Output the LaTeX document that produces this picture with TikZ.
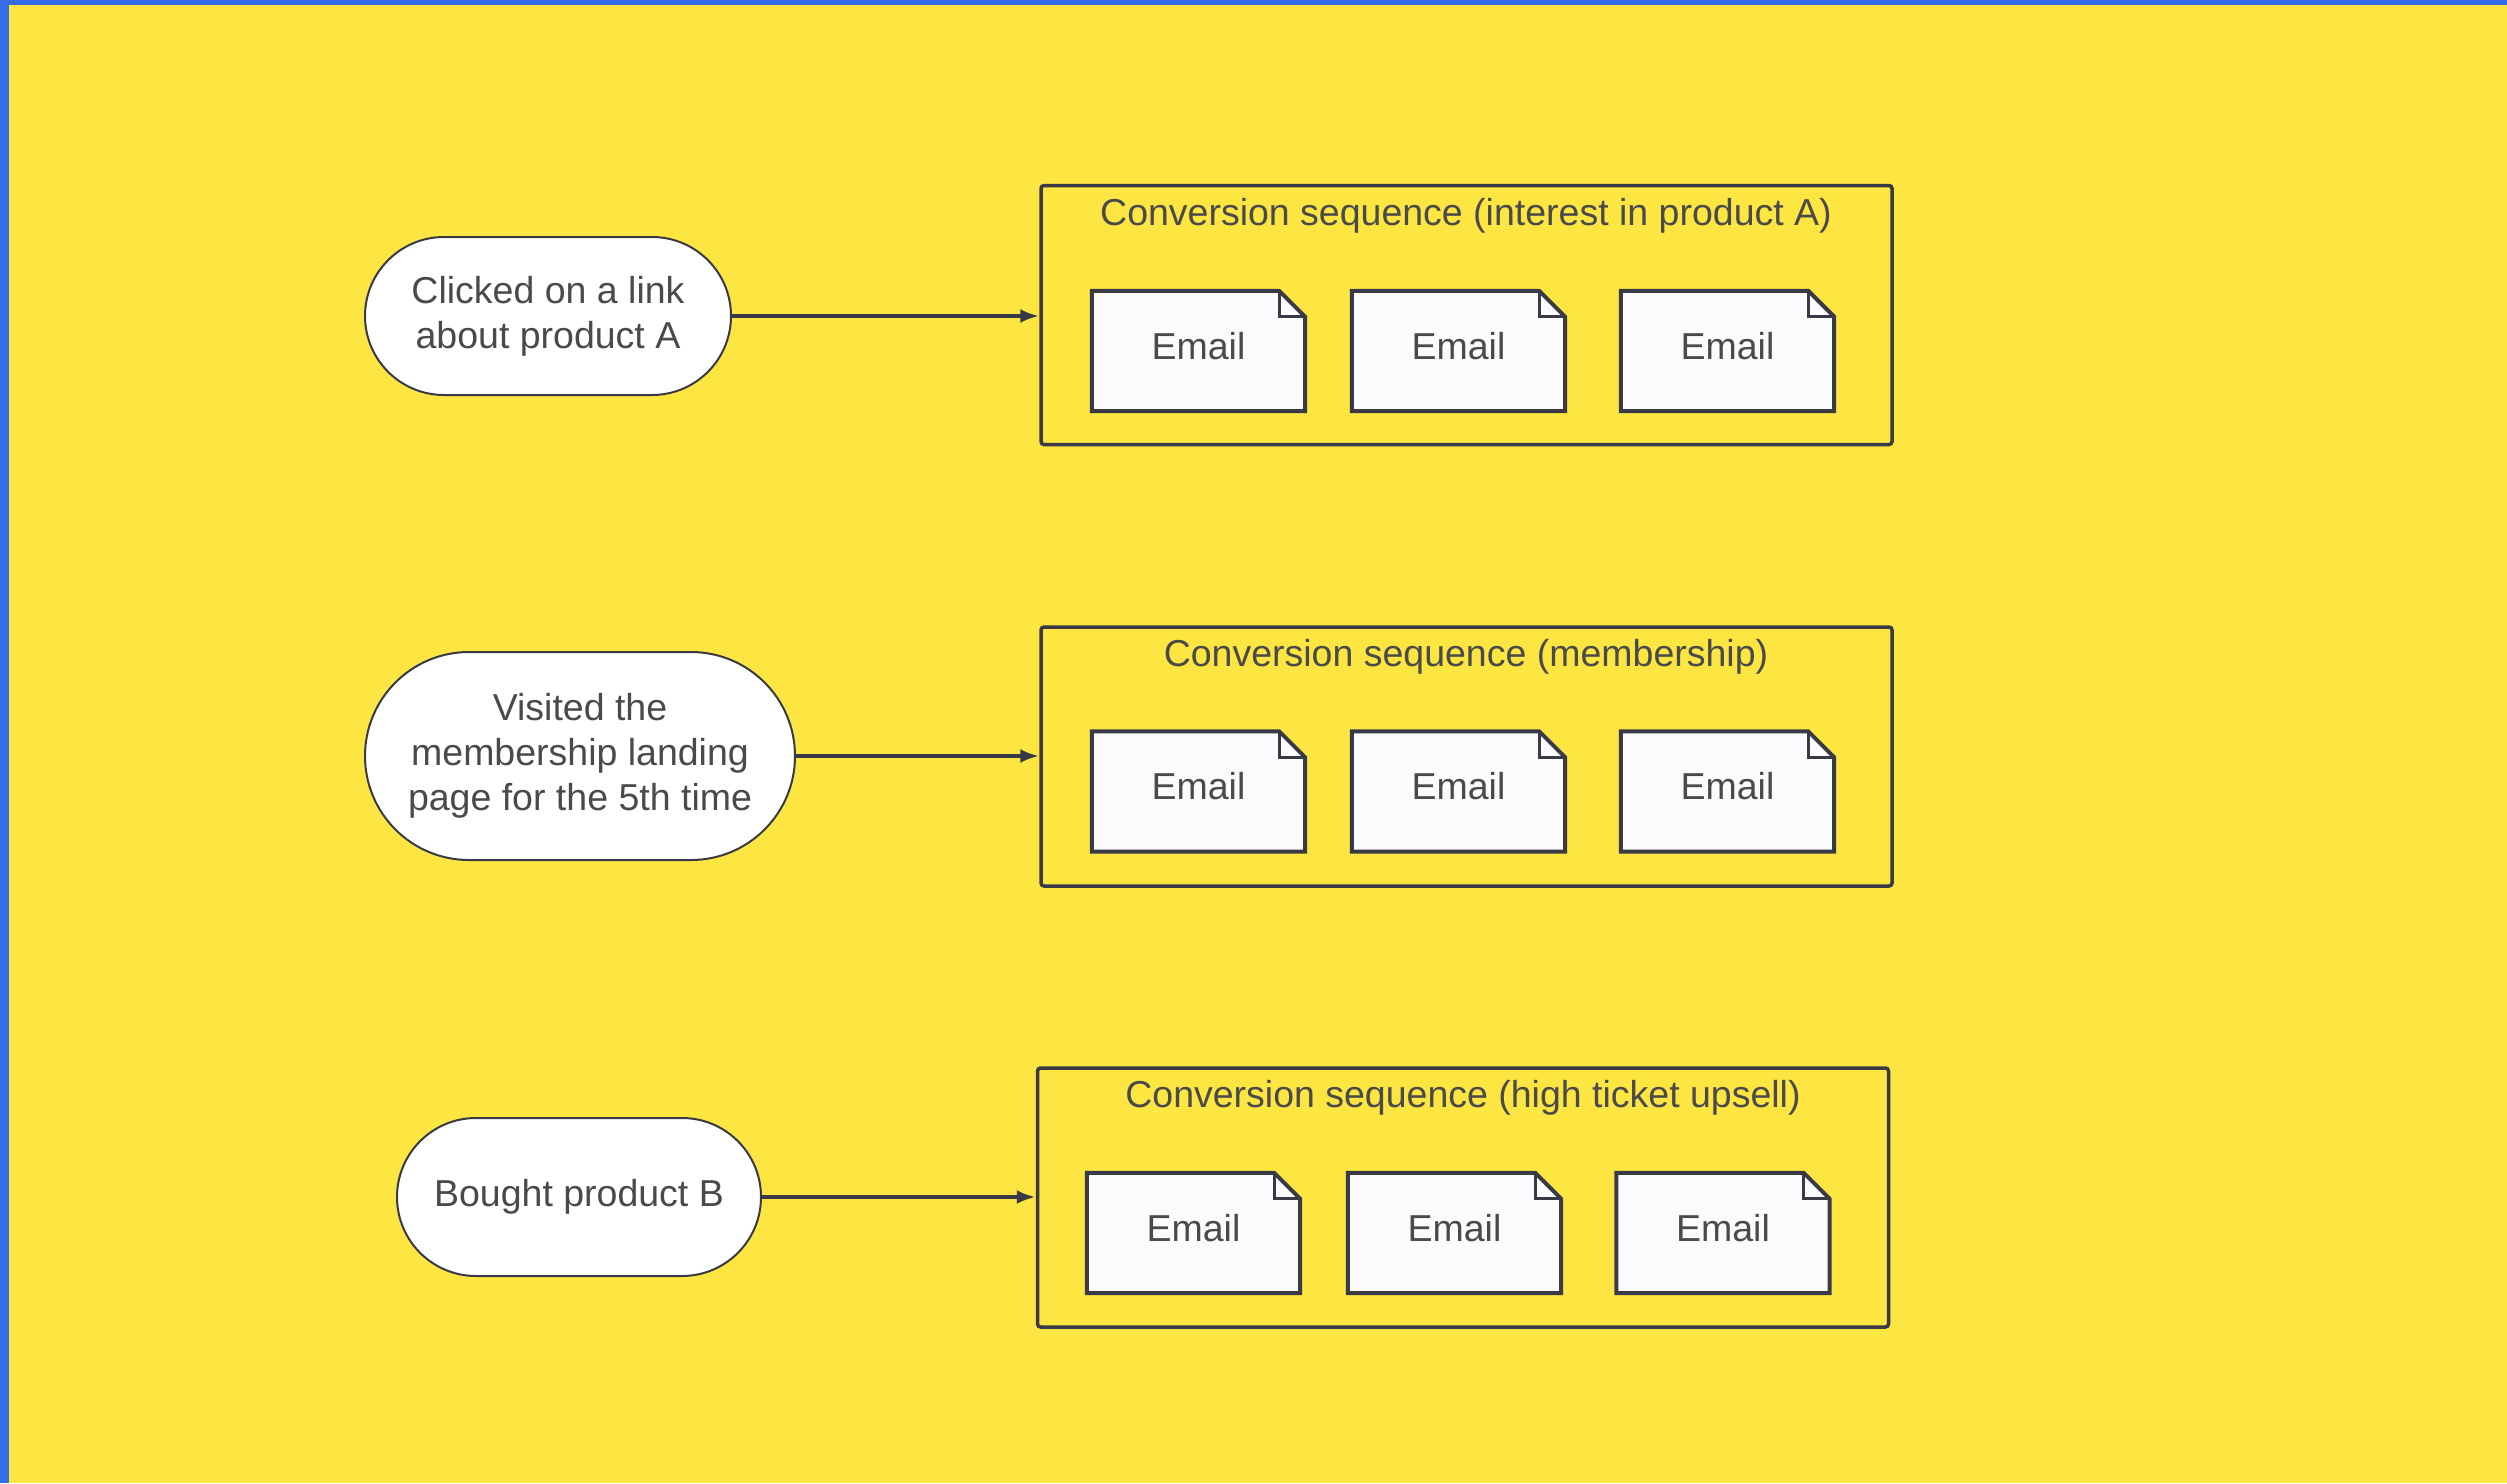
\documentclass[tikz,border=0pt]{standalone}
\usepackage{fontspec}
\setmainfont{Liberation Sans}
\usetikzlibrary{shapes.misc,arrows.meta}
\definecolor{bgyellow}{HTML}{FDE542}
\definecolor{bgblue}{HTML}{366CE8}
\definecolor{linecol}{HTML}{3A3A46}
\definecolor{txtcol}{HTML}{4A4A4A}
\definecolor{docfill}{HTML}{FBFBFE}
\tikzset{
  pill/.style={rounded rectangle, draw=linecol, line width=2pt, fill=white, text=txtcol, align=center, inner sep=0pt, font=\fontsize{37.5}{45}\selectfont},
  seqbox/.style={rectangle, draw=linecol, line width=3.5pt, rounded corners=3pt, minimum width=851pt, minimum height=259pt, inner sep=0pt},
  seqtitle/.style={text=txtcol, inner sep=0pt, font=\fontsize{37.5}{45}\selectfont},
  emailnode/.style={rectangle, minimum width=213pt, minimum height=120pt, inner sep=0pt, text=txtcol, font=\fontsize{37.5}{45}\selectfont},
  docline/.style={draw=linecol, line width=4pt, line join=miter},
  conn/.style={draw=linecol, line width=4pt, -{Latex[length=19pt,width=14pt]}}
}
\newcommand{\emaildoc}[2]{%
  \path[docline, fill=docfill] (#1.north west) -- ([xshift=-26pt]#1.north east) -- ([yshift=-26pt]#1.north east) -- (#1.south east) -- (#1.south west) -- cycle;
  \draw[linecol, line width=3pt] ([xshift=-26pt]#1.north east) -- ([xshift=-26pt,yshift=-26pt]#1.north east) -- ([yshift=-26pt]#1.north east);
  \node[emailnode] at ([yshift=5pt]#1.center) {#2};
}
\begin{document}
\begin{tikzpicture}[x=1pt,y=-1pt]
\useasboundingbox (0,0) rectangle (2507,1483);
\fill[bgyellow] (0,0) rectangle (2507,1483);
\fill[bgblue] (0,0) rectangle (2507,5);
\fill[bgblue] (0,0) rectangle (9,1483);

% Row 1
\node[pill, minimum width=366pt, minimum height=158pt] (p1) at (548,316) {Clicked on a link\\about product A};
\node[seqbox] (b1) at (1466.5,315) {};
\node[seqtitle] (t1) at (1466,216) {Conversion sequence (interest in product A)};
\node[emailnode] (e11) at (1198.5,351) {};
\node[emailnode] (e12) at (1458.5,351) {};
\node[emailnode] (e13) at (1727.5,351) {};
\emaildoc{e11}{Email}
\emaildoc{e12}{Email}
\emaildoc{e13}{Email}
\draw[conn] (p1.east) -- (b1.west |- p1.east);

% Row 2
\node[pill, minimum width=430pt, minimum height=208pt] (p2) at (580,756) {Visited the\\membership landing\\page for the 5th time};
\node[seqbox] (b2) at (1466.5,756.5) {};
\node[seqtitle] (t2) at (1466,657) {Conversion sequence (membership)};
\node[emailnode] (e21) at (1198.5,791.5) {};
\node[emailnode] (e22) at (1458.5,791.5) {};
\node[emailnode] (e23) at (1727.5,791.5) {};
\emaildoc{e21}{Email}
\emaildoc{e22}{Email}
\emaildoc{e23}{Email}
\draw[conn] (p2.east) -- (b2.west |- p2.east);

% Row 3
\node[pill, minimum width=364pt, minimum height=158pt] (p3) at (579,1197) {Bought product B};
\node[seqbox] (b3) at (1463,1197.5) {};
\node[seqtitle] (t3) at (1463,1098) {Conversion sequence (high ticket upsell)};
\node[emailnode] (e31) at (1193.5,1233) {};
\node[emailnode] (e32) at (1454.5,1233) {};
\node[emailnode] (e33) at (1723,1233) {};
\emaildoc{e31}{Email}
\emaildoc{e32}{Email}
\emaildoc{e33}{Email}
\draw[conn] (p3.east) -- (b3.west |- p3.east);
\end{tikzpicture}
\end{document}
